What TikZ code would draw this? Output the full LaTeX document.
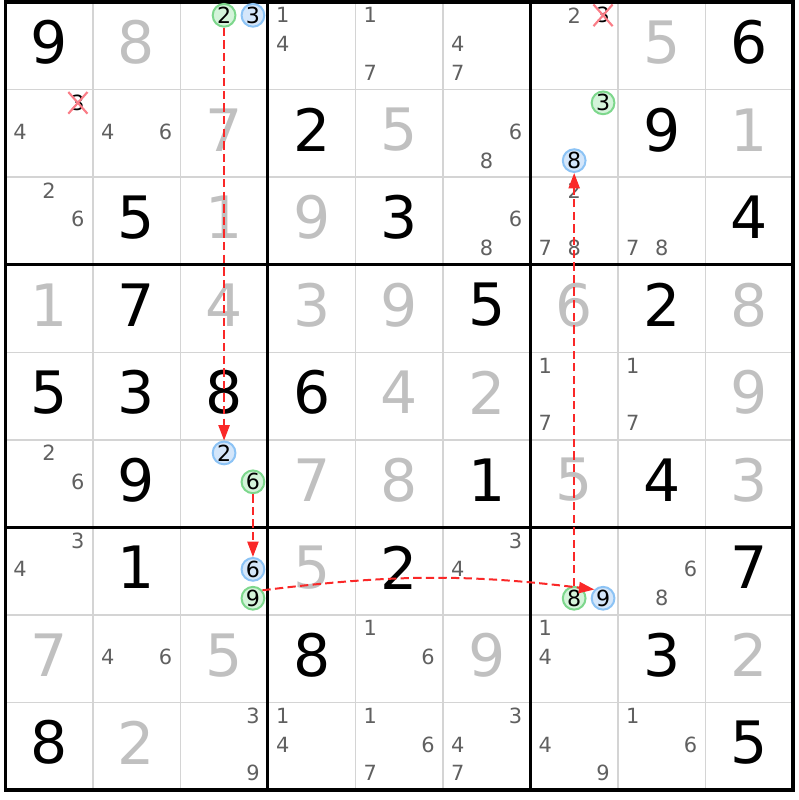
\documentclass[tikz,border=0pt]{standalone}
\usepackage{fontspec}
\setmainfont{DejaVu Sans}
\usetikzlibrary{arrows.meta,shapes.misc}

\definecolor{solvedgray}{RGB}{192,192,192}
\definecolor{pencilgray}{RGB}{96,96,96}
\definecolor{linegray}{RGB}{212,212,212}
\definecolor{onfill}{RGB}{212,244,218}
\definecolor{ondraw}{RGB}{125,215,140}
\definecolor{offfill}{RGB}{212,230,250}
\definecolor{offdraw}{RGB}{140,195,245}
\definecolor{linkred}{RGB}{250,40,40}
\definecolor{crossred}{RGB}{250,125,135}

\newcommand{\cand}[4][pencil]{%
\pgfmathsetmacro{\candx}{#3-0.5+0.33*(mod(#4-1,3)-1)}%
\pgfmathsetmacro{\candy}{9.52-#2-0.33*(div(#4-1,3)-1)}%
\node[#1] (c#2#3#4) at (\candx,\candy) {#4};}

\begin{document}
\begin{tikzpicture}[>={Triangle[length=5pt,width=3.6pt]},
given/.style={font=\fontsize{19}{19}\selectfont,text=black,inner sep=0pt},
solved/.style={given,text=solvedgray},
pencil/.style={font=\fontsize{6.8}{7}\selectfont,text=pencilgray,inner sep=0pt},
ring/.style={circle,minimum size=0.26cm,inner sep=0pt,line width=0.65pt,font=\fontsize{7.2}{7.2}\selectfont,text=black},
candon/.style={ring,draw=ondraw,fill=onfill},
candoff/.style={ring,draw=offdraw,fill=offfill},
dead/.style={pencil,text=black,cross out,draw=crossred,line width=0.7pt,inner sep=0.6pt},
link/.style={->,draw=linkred,line width=0.65pt,dash pattern=on 2.7pt off 1.4pt}]
\useasboundingbox (-0.06,-0.115) rectangle (9.06,9.025);
\foreach \i in {1,2,4,5,7,8} {
  \draw[linegray,line width=0.5pt] (\i,0) -- (\i,9);
  \draw[linegray,line width=0.5pt] (0,\i) -- (9,\i);
}
\foreach \i in {3,6} {
  \draw[line width=1pt] (\i,0) -- (\i,9);
  \draw[line width=1pt] (0,\i) -- (9,\i);
}
\draw[line width=1.1pt] (0,0) rectangle (9,9);
\foreach \row/\col/\val in {1/1/9,1/9/6,2/4/2,2/8/9,3/2/5,3/5/3,3/9/4,4/2/7,4/6/5,4/8/2,
  5/1/5,5/2/3,5/3/8,5/4/6,6/2/9,6/6/1,6/8/4,7/2/1,7/5/2,7/9/7,8/4/8,8/8/3,9/1/8,9/9/5}
  \node[given] (g\row\col) at (\col-0.5,9.54-\row) {\val};
\foreach \row/\col/\val in {1/2/8,1/8/5,2/3/7,2/5/5,2/9/1,3/3/1,3/4/9,4/1/1,4/3/4,4/4/3,4/5/9,
  4/7/6,4/9/8,5/5/4,5/6/2,5/9/9,6/4/7,6/5/8,6/7/5,6/9/3,7/4/5,8/1/7,8/3/5,8/6/9,8/9/2,9/2/2}
  \node[solved] (g\row\col) at (\col-0.5,9.54-\row) {\val};
\foreach \row/\col/\val in {1/4/1,1/4/4,1/5/1,1/5/7,1/6/4,1/6/7,1/7/2,
  2/1/4,2/2/4,2/2/6,2/6/6,2/6/8,
  3/1/2,3/1/6,3/6/6,3/6/8,3/7/2,3/7/7,3/7/8,3/8/7,3/8/8,
  5/7/1,5/7/7,5/8/1,5/8/7,6/1/2,6/1/6,
  7/1/3,7/1/4,7/6/3,7/6/4,7/8/6,7/8/8,
  8/2/4,8/2/6,8/5/1,8/5/6,8/7/1,8/7/4,
  9/3/3,9/3/9,9/4/1,9/4/4,9/5/1,9/5/6,9/5/7,9/6/3,9/6/4,9/6/7,9/7/4,9/7/9,9/8/1,9/8/6}
  \cand{\row}{\col}{\val};
\cand[dead]{2}{1}{3}
\cand[dead]{1}{7}{3}
\cand[candon]{1}{3}{2}
\cand[candoff]{1}{3}{3}
\cand[candon]{2}{7}{3}
\cand[candoff]{2}{7}{8}
\cand[candoff]{6}{3}{2}
\cand[candon]{6}{3}{6}
\cand[candoff]{7}{3}{6}
\cand[candon]{7}{3}{9}
\cand[candon]{7}{7}{8}
\cand[candoff]{7}{7}{9}
\path (c132) edge[link] (c632)
(c636) edge[link] (c736)
(c739.40) edge[link,out=7,in=173] (c779.135)
(c778) edge[link] (c278);
\end{tikzpicture}
\end{document}
